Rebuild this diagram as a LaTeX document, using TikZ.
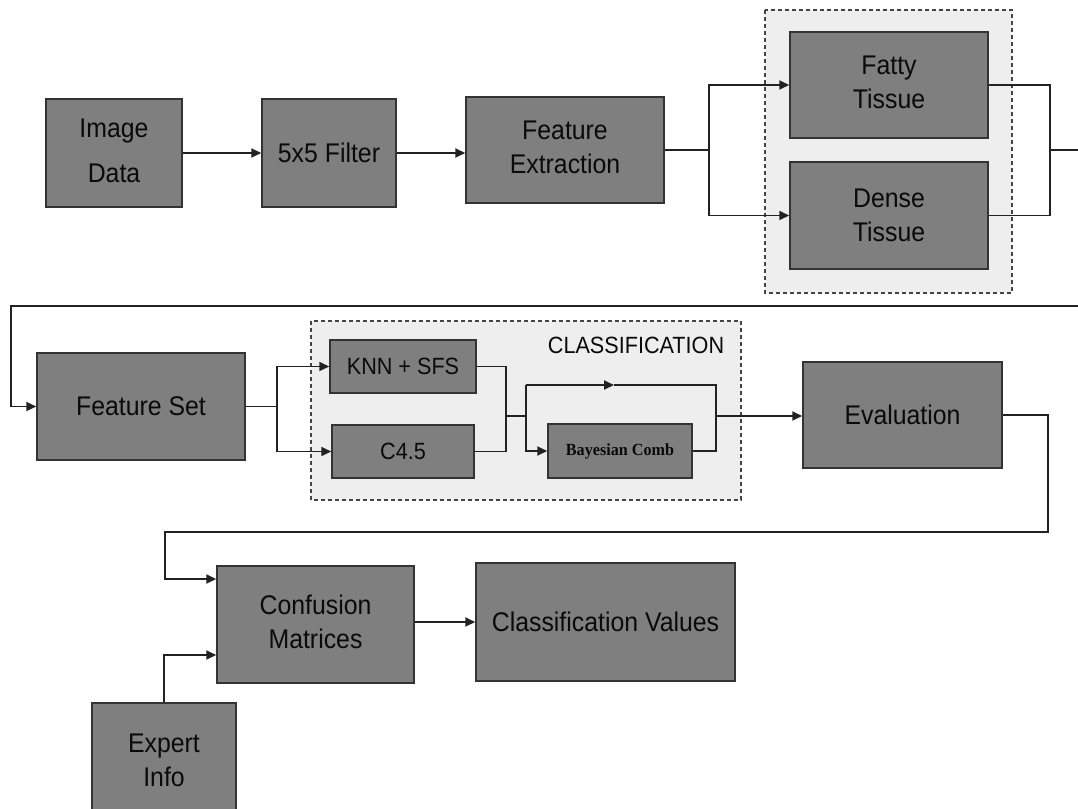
\documentclass[tikz,border=0pt]{standalone}
\usepackage{fontspec}
\setmainfont{Liberation Sans}[FakeStretch=0.92]
\newfontfamily\combfont{Liberation Serif}[FakeStretch=0.95]
\usetikzlibrary{arrows.meta}
\definecolor{boxgray}{HTML}{7F7F7F}
\definecolor{boxedge}{HTML}{333333}
\definecolor{groupfill}{HTML}{EEEEEE}
\definecolor{groupedge}{HTML}{444444}
\definecolor{linkcol}{HTML}{222222}
\definecolor{txt}{HTML}{0A0A0A}
% two-line label raised a little inside its box
\newcommand\liftedlabel[2]{\raisebox{#1}{\begin{tabular}{@{}c@{}}#2\end{tabular}}}
\begin{document}
\begin{tikzpicture}[x=1pt,y=-1pt,
  box/.style={draw=boxedge, fill=boxgray, line width=1.5pt, inner sep=0pt,
    align=center, text=txt, font=\fontsize{27}{34}\selectfont},
  smallbox/.style={box, font=\fontsize{23.5}{28}\selectfont},
  group/.style={draw=groupedge, fill=groupfill, line width=1.3pt,
    dash pattern=on 4pt off 3pt},
  link/.style={draw=linkcol, line width=1.8pt},
  flow/.style={link, -{Triangle[length=10pt,width=9pt]}}]

% page frame
\clip (0,0) rectangle (1078,808);
\fill[white] (0,0) rectangle (1078,808);

% dashed grouping panels
\draw[group] (765,10) rectangle (1012,293);
\draw[group] (311,321) rectangle (741,500);
\node[text=txt, font=\fontsize{23.5}{28}\selectfont] (clslabel) at (636,345) {CLASSIFICATION};

% first row
\node[box, minimum width=136pt, minimum height=108pt] (img) at (114,153) {\liftedlabel{2pt}{Image\\[11pt]Data}};
\node[box, minimum width=134pt, minimum height=108pt] (filt) at (329,153) {5x5 Filter};
\node[box, minimum width=198pt, minimum height=106pt] (fext) at (565,150) {\liftedlabel{6pt}{Feature\\Extraction}};
\node[box, minimum width=198pt, minimum height=106pt] (fatty) at (889,85) {\liftedlabel{8pt}{Fatty\\Tissue}};
\node[box, minimum width=198pt, minimum height=107pt] (dense) at (889,215.5) {Dense\\Tissue};

% second row
\node[box, minimum width=208pt, minimum height=107pt] (fset) at (141,406.5) {Feature Set};
\node[smallbox, minimum width=146pt, minimum height=53pt] (knn) at (403,366.5) {KNN + SFS};
\node[smallbox, minimum width=142pt, minimum height=53pt] (c45) at (403,451.5) {C4.5};
\node[box, minimum width=144pt, minimum height=54pt, font=\combfont\bfseries\fontsize{17}{20}\selectfont] (bayes) at (620,451) {Bayesian Comb};
\node[box, minimum width=199pt, minimum height=106pt] (eval) at (902.5,415) {Evaluation};

% third row
\node[box, minimum width=197pt, minimum height=117pt] (conf) at (315.5,624.5) {\liftedlabel{3pt}{Confusion\\Matrices}};
\node[box, minimum width=259pt, minimum height=118pt] (cval) at (605.5,622) {Classification Values};
\node[box, minimum width=144pt, minimum height=120pt] (expert) at (164,763) {\liftedlabel{6pt}{Expert\\Info}};

% routing points
\coordinate (s1) at (709,150);
\coordinate (m1) at (1050,150);
\coordinate (r1) at (1095,150);
\coordinate (r2) at (1095,306);
\coordinate (r3) at (11,306);
\coordinate (s2) at (277,406.5);
\coordinate (m2) at (506,416);
\coordinate (s3) at (526,416);
\coordinate (b1) at (526,385);
\coordinate (b2) at (614,385);
\coordinate (b3) at (716,385);
\coordinate (m3) at (716,416);
\coordinate (e1) at (1048,532);
\coordinate (e2) at (165,532);

% connectors
\draw[flow] (img.east) -- (filt.west);
\draw[flow] (filt.east) -- (filt.east -| fext.west);
\draw[link] (fext.east) -- (s1);
\draw[flow] (s1) |- (fatty.west);
\draw[flow] (s1) |- (dense.west);
\draw[link] (fatty.east) -| (m1);
\draw[link] (dense.east) -| (m1);
\draw[flow] (m1) -- (r1) -- (r2) -- (r3) |- (fset.west);

\draw[link] (fset.east) -- (s2);
\draw[flow] (s2) |- (knn.west);
\draw[flow] (s2) |- (c45.west);
\draw[link] (knn.east) -| (m2);
\draw[link] (c45.east) -| (m2);
\draw[link] (m2) -- (s3) -- (b1);
\draw[flow] (b1) -- (b2);
\draw[link] (b2) -- (b3) -- (m3);
\draw[flow] (s3) |- (bayes.west);
\draw[link] (bayes.east) -| (m3);
\draw[flow] (m3) -- (m3 -| eval.west);

\draw[flow] (eval.east) -| (e1) -- (e2) |- ([yshift=45.5pt]conf.west);
\draw[flow] (expert.north) |- ([yshift=-30.5pt]conf.west);
\draw[flow] (conf.east |- cval.west) -- (cval.west);
\end{tikzpicture}
\end{document}
